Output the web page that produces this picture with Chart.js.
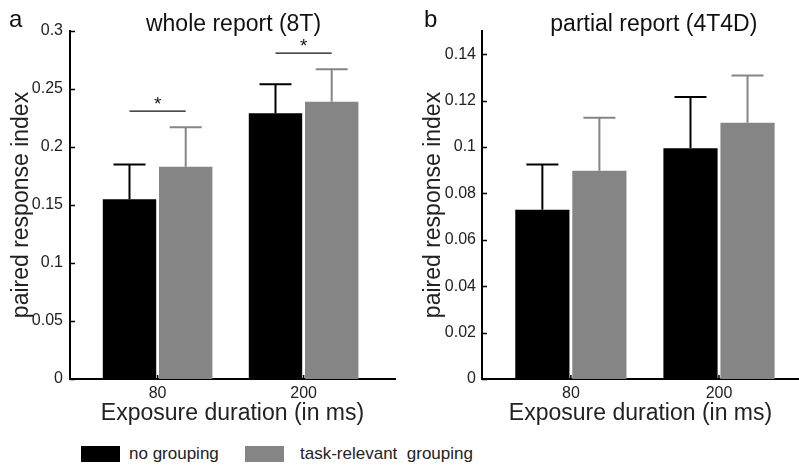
<!DOCTYPE html>
<html>
<head>
<meta charset="utf-8">
<script src="https://cdn.jsdelivr.net/npm/chart.js@4.4.1/dist/chart.umd.min.js"></script>
<style>
  body { margin: 0; background: #fff; }
  #wrap { position: relative; width: 799px; height: 466px; overflow: hidden; font-family: "Liberation Sans", Arial, sans-serif; }
  .pane { position: absolute; top: 0; height: 440px; }
  #legend { position: absolute; top: 446px; left: 0; width: 799px; height: 18px; }
  .lg-box { position: absolute; top: 0; width: 39px; height: 16px; }
  .lg-txt { position: absolute; top: -2px; font-size: 17px; color: #222; white-space: pre; line-height: 20px; }
</style>
</head>
<body>
<div id="wrap">
  <div class="pane" style="left:0;width:400px"><canvas id="chartA"></canvas></div>
  <div class="pane" style="left:400px;width:399px"><canvas id="chartB"></canvas></div>
  <div id="legend"></div>
</div>
<script>
// exposure durations (ms)
const categories = ['80', '200'];
const seriesNames = ['no grouping', 'task-relevant  grouping'];
const seriesColors = ['#000000', '#858585'];

// panel a: whole report (8T)
const wholeNo = [0.155, 0.229];
const wholeNoErr = [0.030, 0.025];
const wholeTask = [0.183, 0.239];
const wholeTaskErr = [0.034, 0.028];
const wholeSig = [0.231, 0.281];
const wholeYTicks = [0, 0.05, 0.1, 0.15, 0.2, 0.25, 0.3];

// panel b: partial report (4T4D)
const partialNo = [0.073, 0.0995];
const partialNoErr = [0.0195, 0.022];
const partialTask = [0.0898, 0.1105];
const partialTaskErr = [0.0228, 0.0203];
const partialYTicks = [0, 0.02, 0.04, 0.06, 0.08, 0.1, 0.12, 0.14];

const FONT = '"Liberation Sans", Arial, sans-serif';
const TXT = '#222';

const panelPlugin = {
    id: 'panel',
    afterDatasetsDraw(chart, args, opts) {
        const ctx = chart.ctx;
        const x = chart.scales.x, y = chart.scales.y;
        const area = chart.chartArea;
        ctx.save();
        // error bars (upper only)
        chart.data.datasets.forEach((ds, di) => {
            const meta = chart.getDatasetMeta(di);
            meta.data.forEach((bar, i) => {
                const top = y.getPixelForValue(ds.data[i].y + ds.errors[i]);
                ctx.strokeStyle = ds.backgroundColor;
                ctx.lineWidth = 2;
                ctx.beginPath();
                ctx.moveTo(bar.x, bar.y);
                ctx.lineTo(bar.x, top);
                ctx.moveTo(bar.x - 16, top);
                ctx.lineTo(bar.x + 16, top);
                ctx.stroke();
            });
        });
        // significance lines
        (opts.sig || []).forEach((v, i) => {
            const a = chart.getDatasetMeta(0).data[i];
            const b = chart.getDatasetMeta(1).data[i];
            const py = y.getPixelForValue(v);
            ctx.strokeStyle = '#111';
            ctx.lineWidth = 1.2;
            ctx.beginPath();
            ctx.moveTo(a.x, py);
            ctx.lineTo(b.x, py);
            ctx.stroke();
            ctx.fillStyle = '#111';
            ctx.font = '19px ' + FONT;
            ctx.textAlign = 'center';
            ctx.textBaseline = 'alphabetic';
            ctx.fillText('*', (a.x + b.x) / 2, py - 1);
        });
        // inward ticks
        ctx.strokeStyle = '#000';
        ctx.lineWidth = 1.5;
        ctx.beginPath();
        y.ticks.forEach(t => {
            const py = Math.round(y.getPixelForValue(t.value)) + 0.5;
            ctx.moveTo(area.left, py);
            ctx.lineTo(area.left + 5, py);
        });
        x.ticks.forEach(t => {
            const px = x.getPixelForValue(t.value);
            ctx.moveTo(px, area.bottom);
            ctx.lineTo(px, area.bottom - 4);
        });
        ctx.stroke();
        // title and panel letter
        ctx.fillStyle = '#111';
        ctx.textBaseline = 'alphabetic';
        ctx.font = '23px ' + FONT;
        ctx.textAlign = 'center';
        ctx.fillText(opts.title, x.getPixelForValue(opts.titleAt), 31);
        ctx.font = '24px ' + FONT;
        ctx.textAlign = 'left';
        ctx.fillText(opts.letter, opts.letterX, 27);
        ctx.restore();
    }
};

function makeChart(id, noVals, noErr, taskVals, taskErr, yTicks, yMax, xMax, axisW, titlePad, tickPad, padRight, panel) {
    const toPts = vals => vals.map((v, i) => ({ x: i + 1, y: v }));
    new Chart(document.getElementById(id), {
        type: 'bar',
        data: {
            datasets: [
                { label: seriesNames[0], data: toPts(noVals), errors: noErr, backgroundColor: seriesColors[0] },
                { label: seriesNames[1], data: toPts(taskVals), errors: taskErr, backgroundColor: seriesColors[1] }
            ]
        },
        options: {
            responsive: true,
            maintainAspectRatio: false,
            animation: false,
            categoryPercentage: 0.77,
            barPercentage: 0.95,
            layout: { padding: { top: 31, right: padRight, left: 0, bottom: 0 } },
            plugins: {
                legend: { display: false },
                tooltip: { enabled: false },
                panel: panel
            },
            scales: {
                x: {
                    type: 'linear',
                    min: 0.4,
                    max: xMax,
                    offset: false,
                    afterBuildTicks: s => { s.ticks = categories.map((c, i) => ({ value: i + 1 })); },
                    afterFit: s => { s.height = 61; },
                    grid: { display: false, drawTicks: false },
                    border: { color: '#000', width: 2 },
                    ticks: {
                        callback: v => categories[v - 1],
                        color: TXT, padding: 5,
                        font: { family: FONT, size: 16 },
                        maxRotation: 0
                    },
                    title: {
                        display: true, text: 'Exposure duration (in ms)', color: TXT,
                        font: { family: FONT, size: 23, lineHeight: 1 },
                        padding: { top: 0, bottom: 15 }
                    }
                },
                y: {
                    min: 0,
                    max: yMax,
                    afterBuildTicks: s => { s.ticks = yTicks.map(v => ({ value: v })); },
                    afterFit: s => { s.width = axisW; },
                    grid: { display: false, drawTicks: false },
                    border: { color: '#000', width: 2 },
                    ticks: {
                        callback: v => String(+v.toFixed(4)),
                        color: TXT, padding: tickPad,
                        font: { family: FONT, size: 16 }
                    },
                    title: {
                        display: true, text: 'paired response index', color: TXT,
                        font: { family: FONT, size: 23, lineHeight: 1 },
                        padding: { top: titlePad, bottom: 0 }
                    }
                }
            }
        },
        plugins: [panelPlugin]
    });
}

makeChart('chartA', wholeNo, wholeNoErr, wholeTask, wholeTaskErr, wholeYTicks, 0.3, 2.626, 70, 10, 7, 5,
    { title: 'whole report (8T)', titleAt: 1.52, letter: 'a', letterX: 9, sig: wholeSig });
makeChart('chartB', partialNo, partialNoErr, partialTask, partialTaskErr, partialYTicks, 0.15, 2.54, 82, 22, 6, 0,
    { title: 'partial report (4T4D)', titleAt: 1.56, letter: 'b', letterX: 24, sig: [] });

// legend
const legend = document.getElementById('legend');
const legendX = [[81, 129], [245, 300]];
seriesNames.forEach((name, i) => {
    const box = document.createElement('div');
    box.className = 'lg-box';
    box.style.left = legendX[i][0] + 'px';
    box.style.background = seriesColors[i];
    const txt = document.createElement('div');
    txt.className = 'lg-txt';
    txt.style.left = legendX[i][1] + 'px';
    txt.textContent = name;
    legend.appendChild(box);
    legend.appendChild(txt);
});
</script>
</body>
</html>
